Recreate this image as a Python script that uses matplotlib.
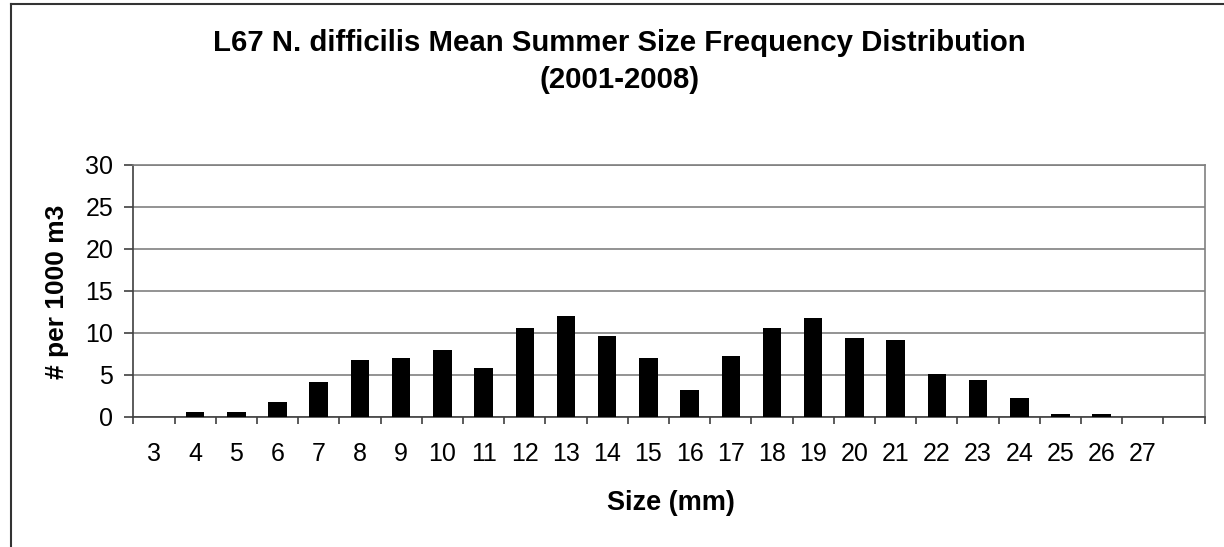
import matplotlib
matplotlib.use("Agg")
import matplotlib.pyplot as plt
from matplotlib.lines import Line2D

categories = ["3", "4", "5", "6", "7", "8", "9", "10", "11", "12", "13", "14", "15",
              "16", "17", "18", "19", "20", "21", "22", "23", "24", "25", "26", "27", ""]
values = [0.0, 0.55, 0.55, 1.75, 4.13, 6.8, 7.0, 7.95, 5.8, 10.55, 12.0, 9.6, 7.0,
          3.17, 7.22, 10.55, 11.75, 9.37, 9.13, 5.1, 4.4, 2.22, 0.32, 0.32, 0.0, 0.0]
yticks = [0, 5, 10, 15, 20, 25, 30]

plt.rcParams['font.family'] = ['Liberation Sans', 'DejaVu Sans']

W, H = 1224, 547
fig = plt.figure(figsize=(W / 100, H / 100), dpi=100)
ax = fig.add_axes([133.3 / W, 1 - 416.7 / H, (1204.7 - 133.3) / W, (416.7 - 164.7) / H])

x = list(range(len(categories)))
ax.bar(x, values, width=0.45, color="black", zorder=3)

ax.set_xlim(-0.5, len(categories) - 0.5)
ax.set_ylim(0, 30)
ax.set_yticks(yticks)
ax.set_yticklabels([str(t) for t in yticks], fontsize=18)
ax.yaxis.grid(True, color="#808080", linewidth=1.2, zorder=0)
ax.set_axisbelow(True)

ax.set_xticks(x)
ax.set_xticklabels(categories, fontsize=18)
ax.tick_params(axis='x', which='major', length=0, pad=18)
ax.set_xticks([i - 0.5 for i in range(len(categories) + 1)], minor=True)
ax.tick_params(axis='x', which='minor', length=5, width=1.2, color="#404040", direction='out')
ax.tick_params(axis='y', length=6.5, width=1.2, color="#404040", pad=8)

for s in ['top', 'right']:
    ax.spines[s].set_color("#808080")
    ax.spines[s].set_linewidth(1.2)
for s in ['left', 'bottom']:
    ax.spines[s].set_color("#404040")
    ax.spines[s].set_linewidth(1.2)

ax.set_xlabel("Size (mm)", fontsize=19.5, fontweight='bold')
ax.xaxis.label.set_va('center')
ax.xaxis.set_label_coords(671 / W, 1 - 503 / H, transform=fig.transFigure)
ax.set_ylabel("# per 1000 m3", fontsize=19, fontweight='bold')
ax.yaxis.label.set_va('center')
ax.yaxis.set_label_coords(57 / W, 1 - 292 / H, transform=fig.transFigure)

fig.text(619.5 / W, 1 - 43 / H, "L67 N. difficilis Mean Summer Size Frequency Distribution",
         ha='center', va='center', fontsize=21.2, fontweight='bold')
fig.text(619.5 / W, 1 - 80 / H, "(2001-2008)", ha='center', va='center', fontsize=21.2, fontweight='bold')

fig.add_artist(Line2D([11 / W, 11 / W], [0, 1 - 4 / H], color="#333333", linewidth=1.5,
                      transform=fig.transFigure))
fig.add_artist(Line2D([11 / W, 1], [1 - 4 / H, 1 - 4 / H], color="#333333", linewidth=1.5,
                      transform=fig.transFigure))

fig.savefig("out.png", dpi=100)
